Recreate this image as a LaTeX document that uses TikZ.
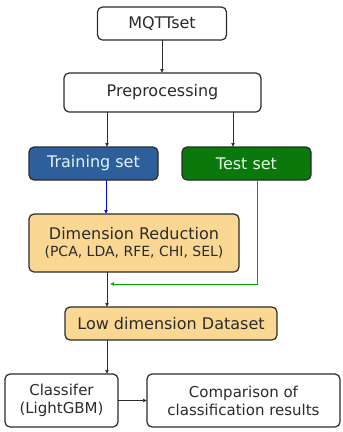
\documentclass[tikz,border=0pt]{standalone}
\usepackage{fontspec}
\setmainfont{DejaVu Sans}
\usepackage{tikz}
\usetikzlibrary{positioning}
\usetikzlibrary{calc}
\usetikzlibrary{arrows.meta}

\definecolor{trainblue}{HTML}{2F5F9A}
\definecolor{testgreen}{HTML}{0B780B}
\definecolor{dimorange}{HTML}{FAD792}
\definecolor{boxline}{HTML}{2B2B2B}

\begin{document}
\begin{tikzpicture}[
x=1pt, y=1pt,
roundnode/.style={
    rectangle,
    rounded corners=5pt,
    draw=boxline,
    fill=white,
    text=boxline,
    line width=1.2pt,
    align=center,
    font=\fontsize{16}{19}\selectfont,
    inner sep=0pt, % No inner spacing
    outer sep=0pt, % No outer spacing
},
flowarrow/.style={
    -{Latex[length=4pt,width=4pt]},
    line width=0.7pt,
    draw=boxline,
},
]

\useasboundingbox (0,0) rectangle (343,-432);

\node[roundnode, minimum width=129, minimum height=33] (mqtt) at (162,-23.5) {MQTTset};
\node[roundnode, minimum width=197, minimum height=39] (prep) at (162.5,-92.5) {Preprocessing};

\node[roundnode, minimum width=129, minimum height=33, fill=trainblue, text=white!88!cyan] (train) at (93.5,-163.5) {Training set};
\node[roundnode, minimum width=129, minimum height=33, fill=testgreen, text=white!88!green] (test) at (246.5,-163.5) {Test set};

\node[roundnode, minimum width=210, minimum height=58, fill=dimorange] (dimred) at (134,-243)
    {Dimension Reduction\\[-2pt]{\fontsize{14}{16}\selectfont(PCA, LDA, RFE, CHI, SEL)}};
\node[roundnode, minimum width=212, minimum height=33, fill=dimorange] (lowdim) at (171,-323.5) {Low dimension Dataset};

\node[roundnode, minimum width=113, minimum height=53, font=\fontsize{15}{18}\selectfont] (clf) at (61.5,-400.5) {Classifer\\(LightGBM)};
\node[roundnode, minimum width=193, minimum height=53, font=\fontsize{15}{18}\selectfont] (comp) at (243.5,-400.5) {Comparison of\\classification results};

\coordinate (join) at (107,-284);

\draw[flowarrow] (mqtt.south) -- (mqtt.south |- prep.north);
\draw[flowarrow] (prep.south -| 107,0) -- (train.north -| 107,0);
\draw[flowarrow] (prep.south -| 233,0) -- (test.north -| 233,0);
\draw[flowarrow, draw=blue] (train.south -| 106,0) -- (dimred.north -| 106,0);
\draw[flowarrow] (dimred.south -| join) -- (lowdim.north -| join);
\draw[flowarrow, draw=green!65!black, line width=0.6pt] (test.south -| 257,0) |- ($(join)+(3,0)$);
\draw[flowarrow] (lowdim.south -| join) -- (clf.north -| join);
\draw[flowarrow] (clf.east) -- (comp.west);

\end{tikzpicture}
\end{document}
